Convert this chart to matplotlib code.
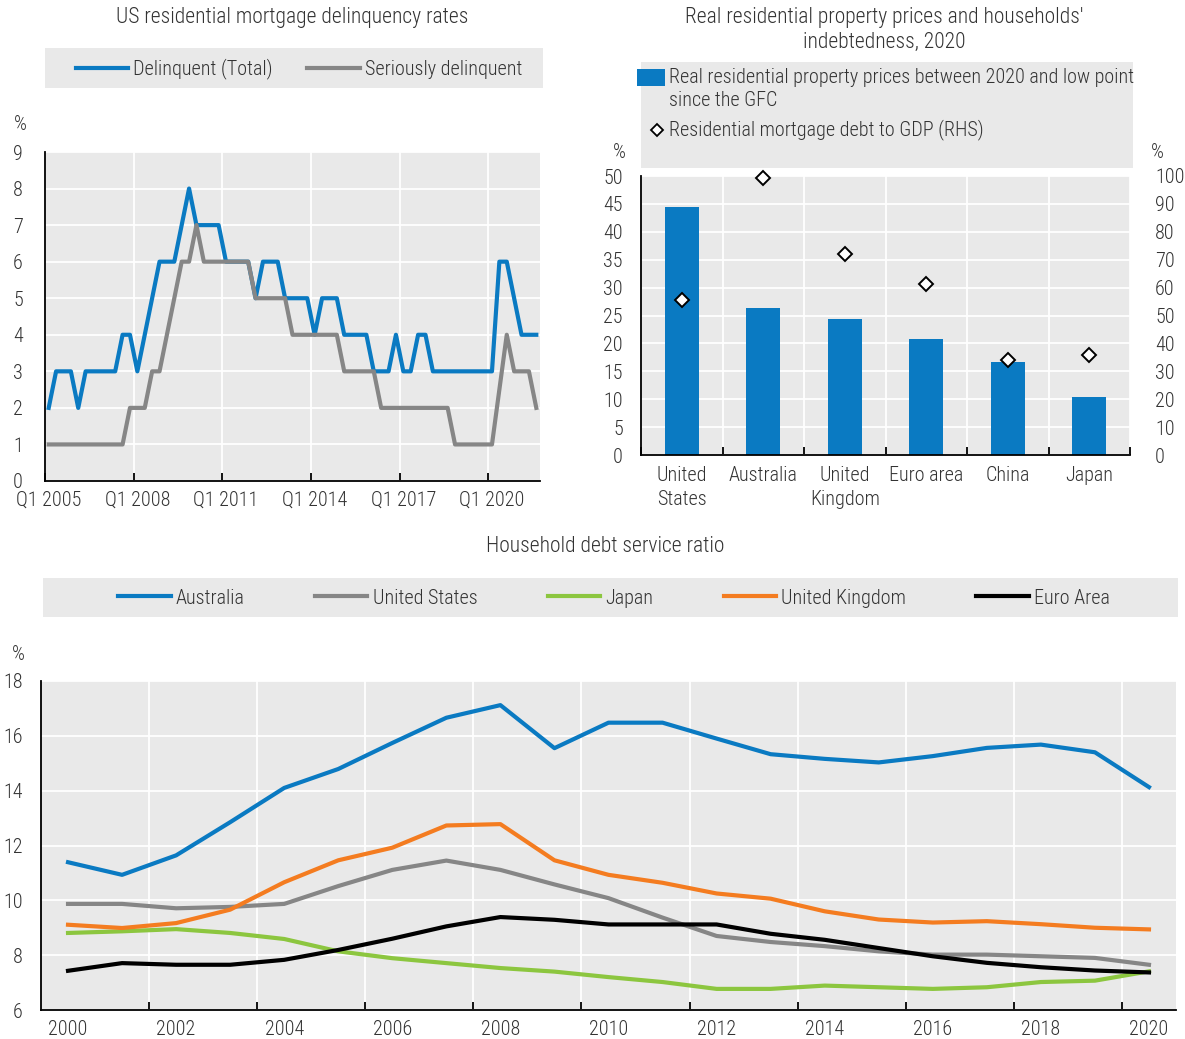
import numpy as np
import matplotlib
matplotlib.use("Agg")
import matplotlib.pyplot as plt
from matplotlib.patches import Rectangle
from matplotlib.lines import Line2D

plt.rcParams['font.family'] = ['Liberation Sans Narrow', 'Roboto Condensed',
                               'Liberation Sans', 'DejaVu Sans']
plt.rcParams['font.weight'] = 'light'

# --- data: US delinquency (quarterly, Q1 2005 - Q3 2021) ---
delinquent_total = [2, 3, 3, 3, 2, 3, 3, 3, 3, 3, 4, 4, 3, 4, 5, 6, 6, 6, 7, 8,
                    7, 7, 7, 7, 6, 6, 6, 6, 5, 6, 6, 6, 5, 5, 5, 5, 4, 5, 5, 5,
                    4, 4, 4, 4, 3, 3, 3, 4, 3, 3, 4, 4, 3, 3, 3, 3, 3, 3, 3, 3,
                    3, 6, 6, 5, 4, 4, 4]
seriously_delinquent = [1, 1, 1, 1, 1, 1, 1, 1, 1, 1, 1, 2, 2, 2, 3, 3, 4, 5, 6, 6,
                        7, 6, 6, 6, 6, 6, 6, 6, 5, 5, 5, 5, 5, 4, 4, 4, 4, 4, 4, 4,
                        3, 3, 3, 3, 3, 2, 2, 2, 2, 2, 2, 2, 2, 2, 2, 1, 1, 1, 1, 1,
                        1, 2.5, 4, 3, 3, 3, 2]
quarter_labels = ['Q1 2005', 'Q1 2008', 'Q1 2011', 'Q1 2014', 'Q1 2017', 'Q1 2020']

# --- data: property prices and mortgage debt ---
countries = ['United\nStates', 'Australia', 'United\nKingdom', 'Euro area', 'China', 'Japan']
price_change = [44.4, 26.4, 24.4, 20.7, 16.7, 10.4]
mortgage_debt_gdp = [55.6, 99.2, 72.1, 61.3, 34.0, 35.7]

# --- data: household debt service ratio (2000-2020) ---
years = list(range(2000, 2021))
dsr_australia = [11.39, 10.93, 11.64, 12.85, 14.10, 14.79, 15.74, 16.66, 17.12, 15.55,
                 16.48, 16.48, 15.90, 15.33, 15.16, 15.03, 15.26, 15.56, 15.68, 15.40, 14.13]
dsr_us = [9.87, 9.87, 9.71, 9.76, 9.87, 10.52, 11.11, 11.45, 11.11, 10.58,
          10.08, 9.37, 8.70, 8.48, 8.33, 8.14, 8.02, 8.02, 7.96, 7.90, 7.65]
dsr_japan = [8.81, 8.87, 8.95, 8.81, 8.59, 8.14, 7.89, 7.71, 7.53, 7.40,
             7.20, 7.02, 6.77, 6.77, 6.89, 6.83, 6.77, 6.83, 7.02, 7.07, 7.41]
dsr_uk = [9.11, 8.99, 9.17, 9.66, 10.66, 11.46, 11.92, 12.73, 12.78, 11.46,
          10.93, 10.64, 10.25, 10.06, 9.60, 9.30, 9.19, 9.24, 9.13, 9.00, 8.94]
dsr_euro = [7.43, 7.71, 7.65, 7.65, 7.83, 8.19, 8.60, 9.05, 9.39, 9.29,
            9.12, 9.12, 9.12, 8.78, 8.56, 8.26, 7.96, 7.72, 7.56, 7.44, 7.37]

BLUE = '#0a7ac2'
GREY = '#868686'
GREEN = '#8cc63f'
ORANGE = '#f47c20'
BLACK = '#000000'
BG = '#e9e9e9'
TXT = '#333333'
FS = 14.5
FS_TITLE = 15.5
LW = 3.0

W, H = 1185, 1039
fig = plt.figure(figsize=(W / 100, H / 100), dpi=100)


def box(x0, y0, x1, y1):
    # pixel box (top-left origin) -> figure fraction rect
    return [x0 / W, 1 - y1 / H, (x1 - x0) / W, (y1 - y0) / H]


def style_axes(ax):
    ax.set_facecolor(BG)
    for s in ['top', 'right']:
        ax.spines[s].set_visible(False)
    for s in ['left', 'bottom']:
        ax.spines[s].set_color('black')
        ax.spines[s].set_linewidth(1.3)
    ax.tick_params(axis='x', which='major', direction='in', length=6, width=1.3,
                   labelbottom=False)
    ax.tick_params(axis='x', which='minor', length=0, labelsize=FS, labelcolor=TXT, pad=7)
    ax.tick_params(axis='y', length=0, labelsize=FS, labelcolor=TXT, pad=13)
    ax.grid(True, which='major', color='white', lw=1.3)
    ax.set_axisbelow(True)


def bg_rect(x0, y0, x1, y1):
    r = box(x0, y0, x1, y1)
    fig.add_artist(Rectangle((r[0], r[1]), r[2], r[3], transform=fig.transFigure,
                             facecolor=BG, edgecolor='none', zorder=0))


# ---------------- top-left: delinquency ----------------
ax1 = fig.add_axes(box(45, 152, 540, 481))
style_axes(ax1)
xq = np.arange(len(delinquent_total))
ax1.plot(xq, delinquent_total, color=BLUE, lw=LW, label='Delinquent (Total)')
ax1.plot(xq, seriously_delinquent, color=GREY, lw=LW, label='Seriously delinquent')
ax1.set_xlim(-0.5, len(xq) - 0.5)
ax1.set_ylim(0, 9)
ax1.set_yticks(range(0, 10))
ax1.set_xticks(np.arange(0, len(xq), 12) - 0.5)
ax1.set_xticks(np.arange(0, len(xq), 12), minor=True)
ax1.set_xticklabels(quarter_labels, minor=True)
ax1.tick_params(axis='y', pad=16)
fig.text(292 / W, 1 - 18 / H, 'US residential mortgage delinquency rates',
         ha='center', va='center', fontsize=FS_TITLE, color=TXT)
fig.text(20 / W, 1 - 125 / H, '%', ha='center', va='center', fontsize=FS, color=TXT)
bg_rect(45, 48, 543, 88)
fig.legend(*ax1.get_legend_handles_labels(), loc='center', ncol=2,
           bbox_to_anchor=(299 / W, 1 - 69 / H), frameon=False, fontsize=FS,
           handlelength=2.6, handletextpad=0.25, columnspacing=1.7, labelcolor=TXT)

# ---------------- top-right: property prices ----------------
ax2 = fig.add_axes(box(641, 176, 1130, 455))
style_axes(ax2)
xc = np.arange(len(countries))
ax2.bar(xc, price_change, width=0.42, color=BLUE, zorder=2)
ax2.set_xlim(-0.5, len(xc) - 0.5)
ax2.set_ylim(0, 50)
ax2.set_yticks(range(0, 51, 5))
ax2.set_xticks(np.arange(len(xc) + 1) - 0.5)
ax2.set_xticks(xc, minor=True)
ax2.set_xticklabels(countries, minor=True, linespacing=1.3)
ax2.tick_params(axis='x', which='minor', pad=8)
ax2r = ax2.twinx()
ax2r.plot(xc, mortgage_debt_gdp, ls='none', marker='D', ms=7, mfc='white',
          mec='black', mew=1.4, zorder=5, clip_on=False)
ax2r.set_ylim(0, 100)
ax2r.set_yticks(range(0, 101, 10))
for s in ['top', 'right', 'left', 'bottom']:
    ax2r.spines[s].set_visible(False)
ax2r.tick_params(axis='y', length=0, labelsize=FS, labelcolor=TXT, pad=18)
fig.text(884 / W, 1 - 18 / H, "Real residential property prices and households'",
         ha='center', va='center', fontsize=FS_TITLE, color=TXT)
fig.text(884 / W, 1 - 42 / H, 'indebtedness, 2020',
         ha='center', va='center', fontsize=FS_TITLE, color=TXT)
fig.text(619 / W, 1 - 152 / H, '%', ha='center', va='center', fontsize=FS, color=TXT)
fig.text(1157 / W, 1 - 152 / H, '%', ha='center', va='center', fontsize=FS, color=TXT)
bg_rect(641, 62, 1133, 168)
r = box(637, 69, 665, 86)
fig.add_artist(Rectangle((r[0], r[1]), r[2], r[3], transform=fig.transFigure,
                         facecolor=BLUE, edgecolor='none', zorder=1))
fig.text(669 / W, 1 - 77 / H, 'Real residential property prices between 2020 and low point',
         ha='left', va='center', fontsize=FS, color=TXT)
fig.text(669 / W, 1 - 101 / H, 'since the GFC',
         ha='left', va='center', fontsize=FS, color=TXT)
fig.add_artist(Line2D([657 / W], [1 - 130 / H], transform=fig.transFigure, ls='none',
                      marker='D', ms=6, mfc='white', mec='black', mew=1.3))
fig.text(669 / W, 1 - 130 / H, 'Residential mortgage debt to GDP (RHS)',
         ha='left', va='center', fontsize=FS, color=TXT)

# ---------------- bottom: debt service ratio ----------------
ax3 = fig.add_axes(box(41, 681, 1176, 1010))
style_axes(ax3)
xy = np.arange(len(years))
series = [(dsr_australia, BLUE, 'Australia'), (dsr_us, GREY, 'United States'),
          (dsr_japan, GREEN, 'Japan'), (dsr_uk, ORANGE, 'United Kingdom'),
          (dsr_euro, BLACK, 'Euro Area')]
for vals, col, lab in series:
    ax3.plot(xy, vals, color=col, lw=LW, label=lab)
ax3.set_xlim(-0.5, len(xy) - 0.5)
ax3.set_ylim(6, 18)
ax3.set_yticks(range(6, 19, 2))
ax3.set_xticks(np.arange(2, len(xy), 2) - 0.5)
ax3.set_xticks(np.arange(0, len(xy), 2), minor=True)
ax3.set_xticklabels([str(y) for y in years[::2]], minor=True)
fig.text(605 / W, 1 - 547 / H, 'Household debt service ratio',
         ha='center', va='center', fontsize=FS_TITLE, color=TXT)
fig.text(18 / W, 1 - 655 / H, '%', ha='center', va='center', fontsize=FS, color=TXT)
bg_rect(43, 578, 1178, 617)
fig.legend(*ax3.get_legend_handles_labels(), loc='center', ncol=5,
           bbox_to_anchor=(614 / W, 1 - 598 / H), frameon=False, fontsize=FS,
           handlelength=2.6, handletextpad=0.25, columnspacing=3.5, labelcolor=TXT)

fig.savefig('out.png', dpi=100)
